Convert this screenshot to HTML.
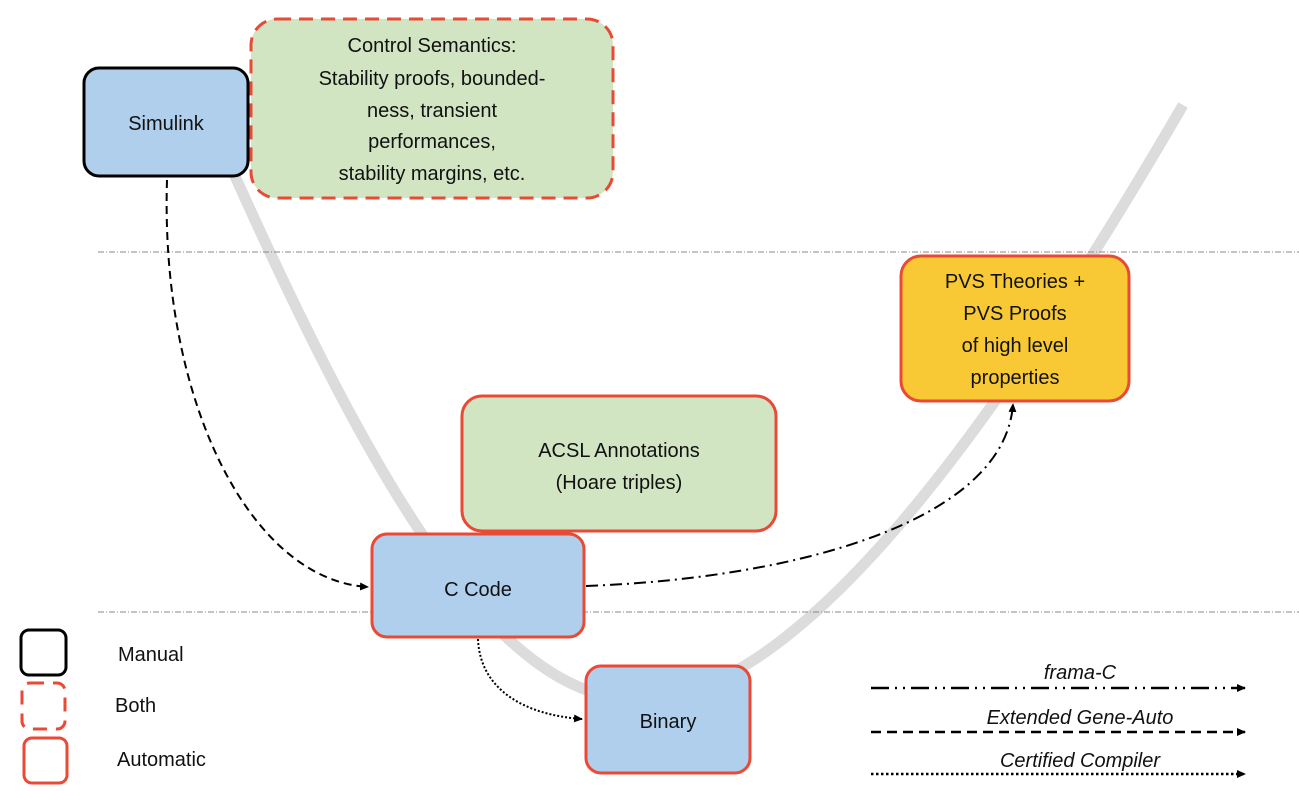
<!DOCTYPE html>
<html><head><style>
body{margin:0;width:1299px;height:791px;background:#fff;overflow:hidden;font-family:"Liberation Sans",sans-serif}
svg{display:block}
text{font-family:"Liberation Sans",sans-serif;font-size:20px;fill:#111}
</style></head><body>
<svg width="1299" height="791" viewBox="0 0 1299 791">
<defs>
<marker id="a" markerWidth="10" markerHeight="10" refX="8" refY="5" orient="auto" markerUnits="userSpaceOnUse"><path d="M0,1 L9,5 L0,9z" fill="#000"/></marker>
</defs>
<path d="M230,165 C 380,500 500,700 640,700 C 800,700 1000,420 1183,105" fill="none" stroke="#dcdcdc" stroke-width="11"/>
<line x1="98" y1="252" x2="1299" y2="252" stroke="#888" stroke-width="1" stroke-dasharray="6,2,1,2"/>
<line x1="98" y1="612" x2="1299" y2="612" stroke="#888" stroke-width="1" stroke-dasharray="6,2,1,2"/>

<rect x="84" y="68" width="164" height="108" rx="15" fill="#b0cfec" stroke="#000" stroke-width="3"/>
<text x="166" y="130" text-anchor="middle">Simulink</text>

<rect x="251" y="19" width="362" height="179" rx="26" fill="#d2e5c3" stroke="#e94a35" stroke-width="3" stroke-dasharray="14,8"/>
<text text-anchor="middle"><tspan x="432" y="52">Control Semantics:</tspan><tspan x="432" y="85">Stability proofs, bounded-</tspan><tspan x="432" y="117">ness, transient</tspan><tspan x="432" y="148">performances,</tspan><tspan x="432" y="180">stability margins, etc.</tspan></text>

<rect x="901" y="256" width="228" height="145" rx="20" fill="#f9c935" stroke="#e94a35" stroke-width="3"/>
<text text-anchor="middle"><tspan x="1015" y="288">PVS Theories +</tspan><tspan x="1015" y="320">PVS Proofs</tspan><tspan x="1015" y="352">of high level</tspan><tspan x="1015" y="384">properties</tspan></text>

<rect x="462" y="396" width="314" height="135" rx="20" fill="#d2e5c3" stroke="#e94a35" stroke-width="3"/>
<text text-anchor="middle"><tspan x="619" y="457">ACSL Annotations</tspan><tspan x="619" y="489">(Hoare triples)</tspan></text>

<rect x="372" y="534" width="212" height="103" rx="15" fill="#b0cfec" stroke="#e94a35" stroke-width="3"/>
<text x="478" y="596" text-anchor="middle">C Code</text>

<rect x="586" y="666" width="164" height="107" rx="15" fill="#b0cfec" stroke="#e94a35" stroke-width="3"/>
<text x="668" y="728" text-anchor="middle">Binary</text>

<path d="M167,180 C 160,400 250,580 368,587" fill="none" stroke="#000" stroke-width="2" stroke-dasharray="8,5" marker-end="url(#a)"/>
<path d="M586,586 C 800,578 1005,520 1013,404" fill="none" stroke="#000" stroke-width="2" stroke-dasharray="12,5,2,5" marker-end="url(#a)"/>
<path d="M478,639 C 480,690 525,715 582,719" fill="none" stroke="#000" stroke-width="2" stroke-dasharray="2,2" marker-end="url(#a)"/>

<rect x="21" y="630" width="45" height="45" rx="8" fill="none" stroke="#000" stroke-width="3"/>
<rect x="22" y="683" width="43" height="46" rx="8" fill="none" stroke="#e94a35" stroke-width="3" stroke-dasharray="14,9"/>
<rect x="24" y="738" width="43" height="45" rx="8" fill="none" stroke="#e94a35" stroke-width="3"/>
<text x="118" y="661">Manual</text>
<text x="115" y="712">Both</text>
<text x="117" y="766">Automatic</text>

<line x1="871" y1="688" x2="1245" y2="688" stroke="#000" stroke-width="2.5" stroke-dasharray="18,6,2,6,2,6" marker-end="url(#a)"/>
<line x1="871" y1="732" x2="1245" y2="732" stroke="#000" stroke-width="2.5" stroke-dasharray="10,6" marker-end="url(#a)"/>
<line x1="871" y1="774" x2="1245" y2="774" stroke="#000" stroke-width="2.5" stroke-dasharray="2.5,2.5" marker-end="url(#a)"/>
<text x="1080" y="679" text-anchor="middle" font-style="italic">frama-C</text>
<text x="1080" y="724" text-anchor="middle" font-style="italic">Extended Gene-Auto</text>
<text x="1080" y="767" text-anchor="middle" font-style="italic">Certified Compiler</text>
</svg>
</body></html>
